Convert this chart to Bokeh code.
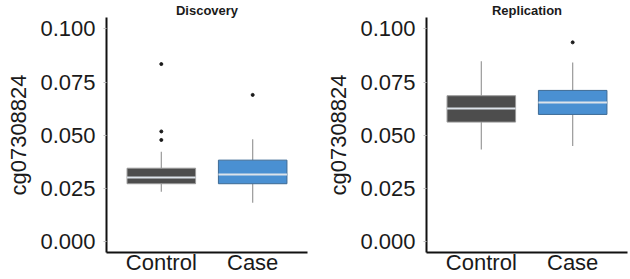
from bokeh.plotting import figure
from bokeh.layouts import row
from bokeh.models import FixedTicker, Range1d
from bokeh.embed import file_html
from bokeh.resources import INLINE

categories = ["Control", "Case"]
y_label = "cg07308824"
y_ticks = [0.000, 0.025, 0.050, 0.075, 0.100]
y_tick_labels = ["0.000", "0.025", "0.050", "0.075", "0.100"]

# Discovery
disc_q1 = [0.0272, 0.0272]
disc_median = [0.0301, 0.0315]
disc_q3 = [0.0345, 0.0383]
disc_low = [0.0234, 0.0183]
disc_high = [0.0423, 0.0481]
disc_out_cat = ["Control", "Control", "Control", "Case"]
disc_out_val = [0.0835, 0.0518, 0.0478, 0.0690]

# Replication
rep_q1 = [0.0562, 0.0598]
rep_median = [0.0626, 0.0654]
rep_q3 = [0.0686, 0.0711]
rep_low = [0.0433, 0.0449]
rep_high = [0.0848, 0.0842]
rep_out_cat = ["Case"]
rep_out_val = [0.0937]

fills = ["#4d4d4d", "#4a90d2"]
outlines = ["#9a9a9a", "#3d6a94"]

FONT = "Liberation Sans"


def panel(title, q1, med, q3, lo, hi, ocat, oval, width, border_right):
    p = figure(width=width, height=279, output_backend="svg", toolbar_location=None,
               x_range=Range1d(0.4, 2.6), y_range=Range1d(-0.00515, 0.1054),
               min_border_left=106, min_border_right=border_right,
               min_border_top=16, min_border_bottom=27)
    p.title.text = title
    p.title.align = "center"
    p.title.text_font = FONT
    p.title.text_font_style = "bold"
    p.title.text_font_size = "13px"
    p.title.offset = 0
    p.title.standoff = 0
    p.title.text_color = "#1a1a1a"

    xs = [categories.index(c) + 1 for c in categories]
    # whiskers
    p.segment(x0=xs, x1=xs, y0=q3, y1=hi, line_color="#9a9a9a", line_width=1.2)
    p.segment(x0=xs, x1=xs, y0=lo, y1=q1, line_color="#9a9a9a", line_width=1.2)
    # boxes
    p.vbar(x=xs, width=0.75, bottom=q1, top=q3, fill_color=fills, line_color=outlines, line_width=1)
    # medians
    p.segment(x0=[x - 0.375 for x in xs], x1=[x + 0.375 for x in xs], y0=med, y1=med,
              line_color="#dde3ea", line_width=2)
    # outliers
    ox = [categories.index(c) + 1 for c in ocat]
    p.scatter(x=ox, y=oval, size=3, color="#1a1a1a")

    p.xgrid.visible = False
    p.ygrid.visible = False
    p.outline_line_color = None
    p.background_fill_color = "white"
    p.border_fill_color = "white"

    p.xaxis.ticker = FixedTicker(ticks=xs)
    p.xaxis.major_label_overrides = {x: c for x, c in zip(xs, categories)}
    p.yaxis.ticker = FixedTicker(ticks=y_ticks)
    p.yaxis.major_label_overrides = {t: l for t, l in zip(y_ticks, y_tick_labels)}
    p.yaxis.axis_label = y_label
    for ax in (p.xaxis[0], p.yaxis[0]):
        ax.axis_line_color = "#111111"
        ax.axis_line_width = 2
        ax.major_tick_line_color = "#bbbbbb"
        ax.major_tick_in = 0
        ax.minor_tick_line_color = None
        ax.major_label_text_font = FONT
        ax.major_label_text_font_size = "22px"
        ax.major_label_text_color = "#1a1a1a"
        ax.axis_label_text_font = FONT
        ax.axis_label_text_font_size = "22px"
        ax.axis_label_text_font_style = "normal"
        ax.axis_label_text_color = "#1a1a1a"
    p.xaxis.major_tick_out = 0
    p.xaxis.major_label_standoff = -3
    p.yaxis.major_tick_out = 3
    p.yaxis.major_label_standoff = 8
    p.yaxis.axis_label_standoff = 6
    return p


p1 = panel("Discovery", disc_q1, disc_median, disc_q3, disc_low, disc_high,
           disc_out_cat, disc_out_val, 320, 13)
p2 = panel("Replication", rep_q1, rep_median, rep_q3, rep_low, rep_high,
           rep_out_cat, rep_out_val, 310, 3)

p = row(p1, p2)
open("out.html", "w").write(file_html(p, INLINE))
